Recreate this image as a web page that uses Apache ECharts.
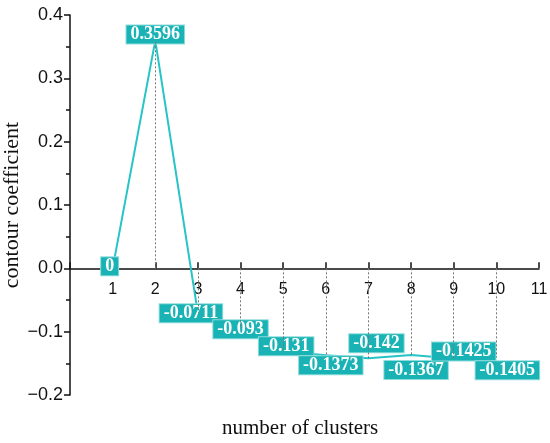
<!DOCTYPE html>
<html>
<head>
    <meta charset="utf-8">
    <title>contour coefficient</title>
    <script src="https://cdn.jsdelivr.net/npm/echarts@6/dist/echarts.min.js"></script>
</head>
<body style="margin:0;background:#fff">
<div id="main" style="width: 550px;height:443px;"></div>
<script type="text/javascript">
// number of clusters vs contour coefficient
var clusters = [1, 2, 3, 4, 5, 6, 7, 8, 9, 10];
var coeff = [0, 0.3596, -0.0711, -0.093, -0.131, -0.1373, -0.142, -0.1367, -0.1425, -0.1405];
var labelText = ['0', '0.3596', '-0.0711', '-0.093', '-0.131', '-0.1373', '-0.142', '-0.1367', '-0.1425', '-0.1405'];
var yTicks = [-0.2, -0.1, 0, 0.1, 0.2, 0.3, 0.4];
// label nudges so the boxes do not sit on top of each other
var labelShift = [[-3, -2], [0, -6], [-7, 0], [0, 2], [3, -5], [5, 10], [8, -15], [5, 15], [10, -7], [11, 13]];

var teal = '#19b3b5';
var myChart = echarts.init(document.getElementById('main'));

var points = clusters.map(function (c, i) {
    return {
        value: [c, coeff[i]],
        label: {offset: labelShift[i]}
    };
});

var drops = [];
clusters.forEach(function (c, i) {
    if (coeff[i] !== 0) {
        drops.push([{coord: [c, 0]}, {coord: [c, coeff[i]]}]);
    }
});

myChart.setOption({
    animation: false,
    backgroundColor: '#fff',
    grid: {left: 70, right: 11, top: 15, bottom: 48, containLabel: false, outerBoundsMode: 'none'},
    title: {
        text: 'number of clusters',
        left: 222,
        top: 418,
        textStyle: {fontFamily: 'Liberation Serif', fontWeight: 'normal', fontSize: 21, color: '#111'},
        padding: 0,
        itemGap: 0
    },
    xAxis: {
        type: 'value',
        min: 0,
        max: 11,
        interval: 1,
        axisLine: {onZero: true, lineStyle: {color: '#111', width: 1.5}},
        axisTick: {inside: true, length: 6, lineStyle: {color: '#111', width: 1.5}},
        axisLabel: {
            fontFamily: 'Liberation Sans', fontSize: 16, color: '#111', margin: -113,
            formatter: function (v) { return v === 0 ? '' : String(v); }
        },
        splitLine: {show: false}
    },
    yAxis: {
        type: 'value',
        min: yTicks[0],
        max: yTicks[yTicks.length - 1],
        interval: 0.1,
        name: 'contour coefficient',
        nameLocation: 'middle',
        nameGap: 47,
        nameMoveOverlap: false,
        nameTextStyle: {fontFamily: 'Liberation Serif', fontSize: 22, color: '#111'},
        axisLine: {show: true, lineStyle: {color: '#111', width: 1.5}},
        axisTick: {length: 6, lineStyle: {color: '#111', width: 1.5}},
        minorTick: {show: true, splitNumber: 2, length: 4, lineStyle: {color: '#111', width: 1.5}},
        axisLabel: {
            fontFamily: 'Liberation Sans', fontSize: 18, color: '#111', margin: 7,
            formatter: function (v) { return v.toFixed(1).replace('-', '\u2212'); }
        },
        splitLine: {show: false}
    },
    series: [{
        type: 'line',
        data: points,
        symbol: 'circle',
        symbolSize: 1,
        itemStyle: {color: teal},
        lineStyle: {color: '#26c4c6', width: 2},
        label: {
            show: true,
            position: 'inside',
            formatter: function (p) { return labelText[p.dataIndex]; },
            fontFamily: 'Liberation Serif',
            fontWeight: 'bold',
            fontSize: 18,
            lineHeight: 17,
            color: '#fff',
            backgroundColor: teal,
            borderColor: '#8fdcdc',
            borderWidth: 1,
            padding: [1, 4, 0, 4]
        },
        markLine: {
            silent: true,
            symbol: ['none', 'none'],
            label: {show: false},
            lineStyle: {color: '#777', type: [2, 2], width: 1},
            data: drops
        }
    }]
});
</script>
</body>
</html>
